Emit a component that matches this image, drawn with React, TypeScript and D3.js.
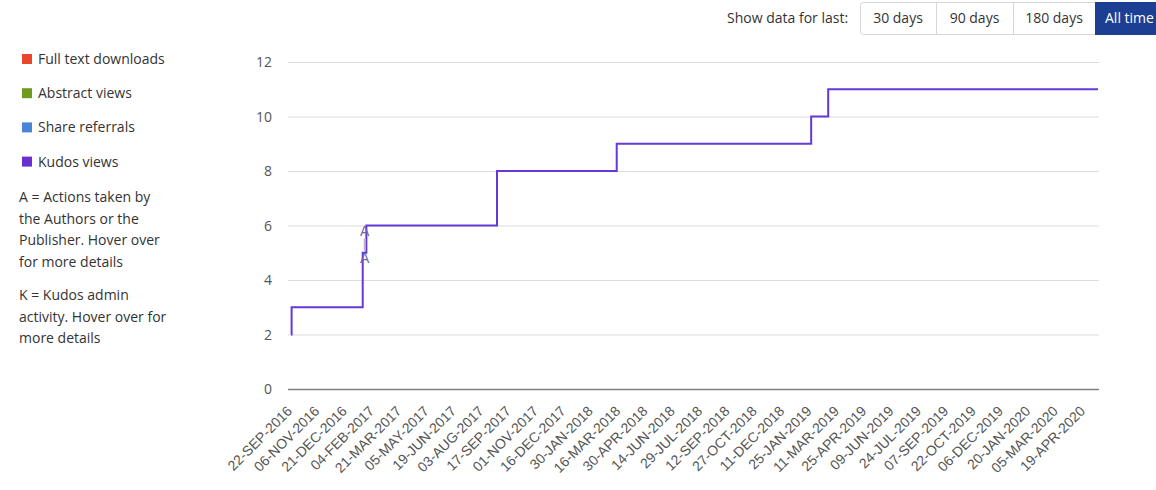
import React from 'react';
import * as d3 from 'd3';

// ---- data ----
const seriesDates = ['2016-09-22', '2016-09-23', '2017-01-18', '2017-01-24', '2017-08-27', '2018-03-12', '2019-01-26', '2019-02-23', '2020-05-12'];
const seriesValues = [2, 3, 5, 6, 8, 9, 10, 11, 11];

const flagDates = ['2017-01-18', '2017-01-18'];
const flagValues = [5, 6];
const flagLabels = ['A', 'A'];

const tickLabels = [
  '22-SEP-2016', '06-NOV-2016', '21-DEC-2016', '04-FEB-2017', '21-MAR-2017', '05-MAY-2017',
  '19-JUN-2017', '03-AUG-2017', '17-SEP-2017', '01-NOV-2017', '16-DEC-2017', '30-JAN-2018',
  '16-MAR-2018', '30-APR-2018', '14-JUN-2018', '29-JUL-2018', '12-SEP-2018', '27-OCT-2018',
  '11-DEC-2018', '25-JAN-2019', '11-MAR-2019', '25-APR-2019', '09-JUN-2019', '24-JUL-2019',
  '07-SEP-2019', '22-OCT-2019', '06-DEC-2019', '20-JAN-2020', '05-MAR-2020', '19-APR-2020',
];
const yTicks = [0, 2, 4, 6, 8, 10, 12];

const legendLabels = ['Full text downloads', 'Abstract views', 'Share referrals', 'Kudos views'];
const legendColors = ['#e8472b', '#6f9a1e', '#4a84d6', '#6a2fcf'];

const noteA = ['A = Actions taken by', 'the Authors or the', 'Publisher. Hover over', 'for more details'];
const noteK = ['K = Kudos admin', 'activity. Hover over for', 'more details'];

const buttonLabels = ['30 days', '90 days', '180 days', 'All time'];
const domainStart = '2016-09-22';
const domainEnd = '2020-05-12';

const parseIso = d3.utcParse('%Y-%m-%d');
const parseTick = d3.utcParse('%d-%b-%Y');

export default function App() {
  const x = d3.scaleUtc().domain([parseIso(domainStart)!, parseIso(domainEnd)!]).range([291, 1098]);
  const y = d3.scaleLinear().domain([0, 12]).range([389, 62]);
  const pts: [number, number][] = seriesDates.map((d, i) => [x(parseIso(d)!), y(seriesValues[i])]);
  const line = d3.line().curve(d3.curveStepAfter)(pts) || '';
  const gridX0 = 288;
  const gridX1 = 1099;
  const sans = '"Open Sans", "Noto Sans", sans-serif';
  const arial = '"Liberation Sans", Arial, sans-serif';

  const btnEdges = [860, 936, 1013, 1095, 1170];

  return (
    <svg width={1156} height={490} style={{ position: 'absolute', left: 0, top: 0, background: '#fff' }}>
      {/* top controls */}
      <text x={727} y={23} fontFamily={sans} fontSize={14} fill="#333">Show data for last:</text>
      <rect x={860.5} y={2.5} width={310} height={32} rx={3} fill="#fff" stroke="#d6d6d6" />
      {buttonLabels.map((b, i) => {
        const x0 = btnEdges[i];
        const x1 = btnEdges[i + 1];
        const active = i === buttonLabels.length - 1;
        return (
          <g key={b}>
            {active && <rect x={x0} y={2} width={x1 - x0} height={33} fill="#1c3f94" />}
            {i > 0 && !active && <line x1={x0 + 0.5} x2={x0 + 0.5} y1={3} y2={34} stroke="#d6d6d6" />}
            <text x={active ? x0 + 10 : (x0 + x1) / 2} y={23} textAnchor={active ? 'start' : 'middle'} fontFamily={sans} fontSize={14}
              fill={active ? '#fff' : '#333'}>{b}</text>
          </g>
        );
      })}

      {/* legend */}
      {legendLabels.map((l, i) => (
        <g key={l}>
          <rect x={22} y={54 + i * 34.2} width={10} height={10} fill={legendColors[i]} />
          <text x={38} y={64 + i * 34.2} fontFamily={sans} fontSize={14} fill="#333">{l}</text>
        </g>
      ))}
      {noteA.map((t, i) => (
        <text key={t} x={19} y={202 + i * 21.6} fontFamily={sans} fontSize={14} fill="#333">{t}</text>
      ))}
      {noteK.map((t, i) => (
        <text key={t} x={19} y={300 + i * 21.6} fontFamily={sans} fontSize={14} fill="#333">{t}</text>
      ))}

      {/* grid */}
      {yTicks.map((v) => (
        <g key={v}>
          {v !== 0 && <line x1={gridX0} x2={gridX1} y1={y(v) + 0.5} y2={y(v) + 0.5} stroke="#dcdcdc" />}
          <text x={272} y={y(v) + 5} textAnchor="end" fontFamily={sans} fontSize={14} fill="#555">{v}</text>
        </g>
      ))}
      <line x1={gridX0} x2={gridX1} y1={y(0) + 0.5} y2={y(0) + 0.5} stroke="#808080" strokeWidth={1.5} />

      {/* x tick labels */}
      {tickLabels.map((t) => {
        const tx = x(parseTick(t)!);
        return (
          <text key={t} transform={`translate(${tx + 2},${412}) rotate(-45)`} textAnchor="end"
            fontFamily={arial} fontSize={14} fill="#555">{t}</text>
        );
      })}

      {/* series */}
      <path d={line} fill="none" stroke="#6538d8" strokeWidth={2} />

      {/* flags */}
      <line x1={x(parseIso(flagDates[0])!) + 2} x2={x(parseIso(flagDates[0])!) + 2}
        y1={y(flagValues[1]) + 13} y2={y(flagValues[0]) - 2} stroke="#b8b8c8" strokeWidth={2} />
      {flagDates.map((d, i) => (
        <text key={i} x={x(parseIso(d)!) + 2} y={y(flagValues[i]) + 10} textAnchor="middle"
          fontFamily={arial} fontSize={14} fill="#6d66a8">{flagLabels[i]}</text>
      ))}
    </svg>
  );
}
